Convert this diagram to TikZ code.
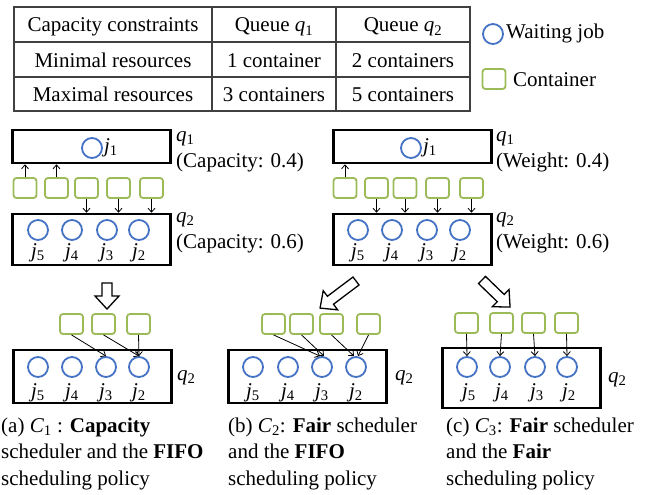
\documentclass[tikz,border=0pt]{standalone}
\usepackage{fontspec}
\setmainfont{Liberation Serif}
\usetikzlibrary{arrows.meta}
\definecolor{jobblue}{RGB}{68,114,196}
\definecolor{slotgreen}{RGB}{155,187,89}
\newcommand{\jl}[1]{\textit{j}\textsubscript{#1}}
\newcommand{\ql}[1]{\textit{q}\textsubscript{#1}}
\begin{document}
\begin{tikzpicture}[x=1pt,y=-1pt,
  every node/.style={inner sep=1pt,font=\fontsize{21}{26.5}\selectfont},
  tbl/.style={draw=black!75,line width=1.3pt},
  qbox/.style={draw,rectangle,line width=2.5pt,minimum width=158pt,inner sep=0pt},
  jobcirc/.style={circle,draw=jobblue,line width=1.8pt,minimum size=20pt,inner sep=0pt},
  slot/.style={rectangle,rounded corners=3pt,draw=slotgreen,line width=1.8pt,minimum width=23pt,minimum height=20pt,inner sep=0pt},
  feed/.style={-{Straight Barb[length=4pt,width=7pt]},line width=0.8pt},
  bigarrow/.style={draw,fill=white,line width=1.3pt,line join=miter}]
\useasboundingbox (0,0) rectangle (656,495);
%table
\draw[tbl] (14,7) rectangle (470,111);
\draw[tbl] (14,42) -- (470,42) (14,77) -- (470,77);
\draw[tbl] (212,7) -- (212,111) (336,7) -- (336,111);
\node[anchor=base] (t11) at (113,32) {Capacity constraints};
\node[anchor=base] (t12) at (274,32) {Queue \ql{1}};
\node[anchor=base] (t13) at (403,32) {Queue \ql{2}};
\node[anchor=base] (t21) at (113,67) {Minimal resources};
\node[anchor=base] (t22) at (274,67) {1 container};
\node[anchor=base] (t23) at (403,67) {2 containers};
\node[anchor=base] (t31) at (113,102) {Maximal resources};
\node[anchor=base] (t32) at (274,102) {3 containers};
\node[anchor=base] (t33) at (403,102) {5 containers};
%legend
\node[jobcirc] (legjob) at (493,34) {};
\node[anchor=west] (legjobtxt) at (505,33) {Waiting job};
\node[slot] (legslot) at (494,79) {};
\node[anchor=west] (legslottxt) at (512,80) {Container};
%capacity scheduler
\node[qbox,minimum height=33pt] (capq1) at (91.5,146.5) {};
\node[jobcirc] (capj1) at (92,148) {};
\node[anchor=west] (capl1) at (capj1.east) {\jl{1}};
\node[anchor=west] (capn1) at (175,139) {\ql{1}};
\node[anchor=west] (capw1) at (175,162) {(Capacity: 0.4)};
\node[qbox,minimum height=51pt] (capq2) at (91.5,239.5) {};
\foreach \n/\x in {5/38,4/72,3/107,2/139}{
\node[jobcirc] (capj\n) at (\x,230) {};
\node (capl\n) at (\x,253) {\jl{\n}};
}
\node[anchor=west] (capn2) at (175,220) {\ql{2}};
\node[anchor=west] (capw2) at (175,243) {(Capacity: 0.6)};
\foreach \n/\x in {1/25,2/56.5,3/86.5,4/118.5,5/151.5}{
\node[slot] (caps\n) at (\x,188) {};
}
\foreach \n in {1,2}{
\draw[feed] (caps\n.north) -- (caps\n.north |- capq1.south);
}
\foreach \n in {3,4,5}{
\draw[feed] (caps\n.south) -- (caps\n.south |- capq2.north);
}
%weights
\node[qbox,minimum height=33pt] (wq1) at (412.5,146.5) {};
\node[jobcirc] (wj1) at (411,148) {};
\node[anchor=west] (wl1) at (wj1.east) {\jl{1}};
\node[anchor=west] (wn1) at (495,139) {\ql{1}};
\node[anchor=west] (ww1) at (495,162) {(Weight: 0.4)};
\node[qbox,minimum height=51pt] (wq2) at (412.5,239.5) {};
\foreach \n/\x in {5/358,4/392,3/427,2/460}{
\node[jobcirc] (wj\n) at (\x,230) {};
\node (wl\n) at (\x,253) {\jl{\n}};
}
\node[anchor=west] (wn2) at (495,220) {\ql{2}};
\node[anchor=west] (ww2) at (495,243) {(Weight: 0.6)};
\foreach \n/\x in {1/345,2/376.5,3/405,4/437.5,5/471.5}{
\node[slot] (ws\n) at (\x,188) {};
}
\draw[feed] (ws1.north) -- (ws1.north |- wq1.south);
\foreach \n in {2,...,5}{
\draw[feed] (ws\n.south) -- (ws\n.south |- wq2.north);
}
% hollow arrows
\foreach \x/\y/\a/\l in {107/283/-90/26,356/281/217/45,482/280/-44/39}{
\draw[bigarrow,shift={(\x,\y)},rotate=\a] (0,-5) -- (\l-13,-5) -- (\l-13,-12) -- (\l,0)
  -- (\l-13,12) -- (\l-13,5) -- (0,5) -- cycle;
}
%(a)
\node[qbox,minimum height=53pt] (boxa) at (92.5,376.5) {};
\foreach \n/\x in {5/38,4/72,3/106,2/139}{
\node[jobcirc] (a\n) at (\x,367) {};
\node (la\n) at (\x,393) {\jl{\n}};
}
\foreach \n/\x in {1/71.5,2/103.5,3/138.5}{
\node[slot] (sa\n) at (\x,324) {};
}
\draw[feed] (sa1.south) -- (a3.north);
\draw[feed] (sa2.south) -- (a2.north);
\draw[feed] (sa3.south) -- (a2.north);
\node[anchor=west] (na) at (176,378) {\ql{2}};
%(b)
\node[qbox,minimum height=53pt] (boxb) at (307.5,376.5) {};
\foreach \n/\x in {5/253,4/288,3/322,2/356}{
\node[jobcirc] (b\n) at (\x,367) {};
\node (lb\n) at (\x,393) {\jl{\n}};
}
\foreach \n/\x in {1/273.5,2/301.5,3/331.5,4/368.5}{
\node[slot] (sb\n) at (\x,324) {};
}
\draw[feed] (sb1.south) -- ([xshift=-2pt]b3.north);
\draw[feed] (sb2.south) -- ([xshift=2pt]b3.north);
\draw[feed] (sb3.south) -- ([xshift=-2pt]b2.north);
\draw[feed] (sb4.south) -- ([xshift=2pt]b2.north);
\node[anchor=west] (nb) at (394,378) {\ql{2}};
%(c)
\node[qbox,minimum height=60pt] (boxc) at (521.5,378) {};
\foreach \n/\x in {5/467,4/500,3/535,2/567}{
\node[jobcirc] (c\n) at (\x,367) {};
\node (lc\n) at (\x+2,393) {\jl{\n}};
}
\foreach \n/\x in {1/466.5,2/501.5,3/533.5,4/566.5}{
\node[slot] (sc\n) at (\x,323) {};
}
\draw[feed] (sc1.south) -- (c5.north);
\draw[feed] (sc2.south) -- (c4.north);
\draw[feed] (sc3.south) -- (c3.north);
\draw[feed] (sc4.south) -- (c2.north);
\node[anchor=west] (nc) at (607,380) {\ql{2}};
%captions
\node[anchor=north west,align=left] (capa) at (0,416.5)
  {(a) \textit{C}\textsubscript{1} : \textbf{Capacity}\\scheduler and the \textbf{FIFO}\\scheduling policy};
\node[anchor=north west,align=left] (capb) at (227,416.5)
  {(b) \textit{C}\textsubscript{2}: \textbf{Fair} scheduler\\and the \textbf{FIFO}\\scheduling policy};
\node[anchor=north west,align=left] (capc) at (445,416.5)
  {(c) \textit{C}\textsubscript{3}: \textbf{Fair} scheduler\\and the \textbf{Fair}\\scheduling policy};
\end{tikzpicture}
\end{document}
